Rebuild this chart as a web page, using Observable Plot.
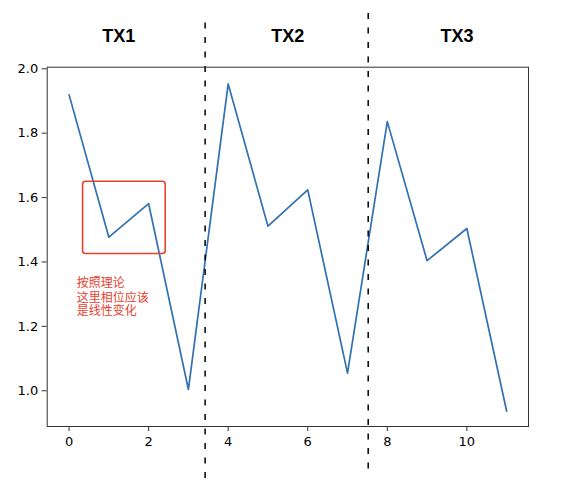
<!DOCTYPE html>
<html>
<head>
<meta charset="utf-8">
<script src="https://cdn.jsdelivr.net/npm/d3@7"></script>
<script src="https://cdn.jsdelivr.net/npm/@observablehq/plot@0.6"></script>
<style>
  html, body { margin: 0; padding: 0; background: #fff; }
</style>
</head>
<body>
<div id="chart"></div>
<script>
// Data
const xs = [0, 1, 2, 3, 4, 5, 6, 7, 8, 9, 10, 11];
const phase = [1.919, 1.477, 1.581, 1.004, 1.953, 1.511, 1.624, 1.055, 1.836, 1.404, 1.504, 0.937];
const groupLabels = ["TX1", "TX2", "TX3"];
const groupCenters = [1.25, 5.5, 9.75];
const separatorX = [3.42, 7.52];
const separatorTop = [2.142, 2.172];
const separatorBottom = [0.70, 0.737];
const xTicks = [0, 2, 4, 6, 8, 10];
const yTicks = [1.0, 1.2, 1.4, 1.6, 1.8, 2.0];
const boxX = [0.352, 2.43];
const boxY = [1.425, 1.649];
const noteLines = ["按照理论", "这里相位应该", "是线性变化"];
const noteLineY = [1.334, 1.289, 1.247];
const noteX = 0.19;
const titleY = 2.101;

const points = xs.map((x, i) => ({x, y: phase[i]}));
const seps = separatorX.map((x, i) => ({x, y1: separatorTop[i], y2: separatorBottom[i]}));
const titles = groupLabels.map((t, i) => ({t, x: groupCenters[i]}));
const notes = noteLines.map((t, i) => ({t, y: noteLineY[i]}));

const chart = Plot.plot({
  width: 564,
  height: 480,
  marginLeft: 46.7,
  marginRight: 36,
  marginTop: 66.7,
  marginBottom: 54,
  style: {fontFamily: "DejaVu Sans", fontSize: "13px", color: "#000", background: "#fff"},
  x: {domain: [-0.55, 11.55], label: null},
  y: {domain: [0.889, 2.005], label: null},
  marks: [
    Plot.axisX({ticks: xTicks, tickFormat: d => String(d), tickSize: 5, tickPadding: 5, label: null, stroke: "#333", fill: "#000", fontSize: 13}),
    Plot.axisY({ticks: yTicks, tickFormat: d3.format(".1f"), tickSize: 5, tickPadding: 4, label: null, stroke: "#333", fill: "#000", fontSize: 13}),
    Plot.line(points, {x: "x", y: "y", stroke: "#3171b0", strokeWidth: 1.7}),
    Plot.rect([{x1: boxX[0], x2: boxX[1], y1: boxY[0], y2: boxY[1]}], {x1: "x1", x2: "x2", y1: "y1", y2: "y2", fill: "none", stroke: "#e5412d", strokeWidth: 1.6, rx: 3}),
    Plot.text(notes, {x: () => noteX, y: "y", text: "t", textAnchor: "start", fill: "#e5412d", fontSize: 12, fontFamily: "Noto Sans CJK SC"}),
    Plot.ruleX(seps, {x: "x", y1: "y1", y2: "y2", stroke: "#000", strokeWidth: 1.5, strokeDasharray: "6,8.5"}),
    Plot.frame({stroke: "#333", strokeWidth: 1}),
    Plot.text(titles, {x: "x", y: () => titleY, text: "t", fontSize: 18, fontWeight: "bold", fontFamily: "Liberation Sans", fill: "#000"})
  ]
});
document.getElementById("chart").appendChild(chart);
</script>
</body>
</html>
